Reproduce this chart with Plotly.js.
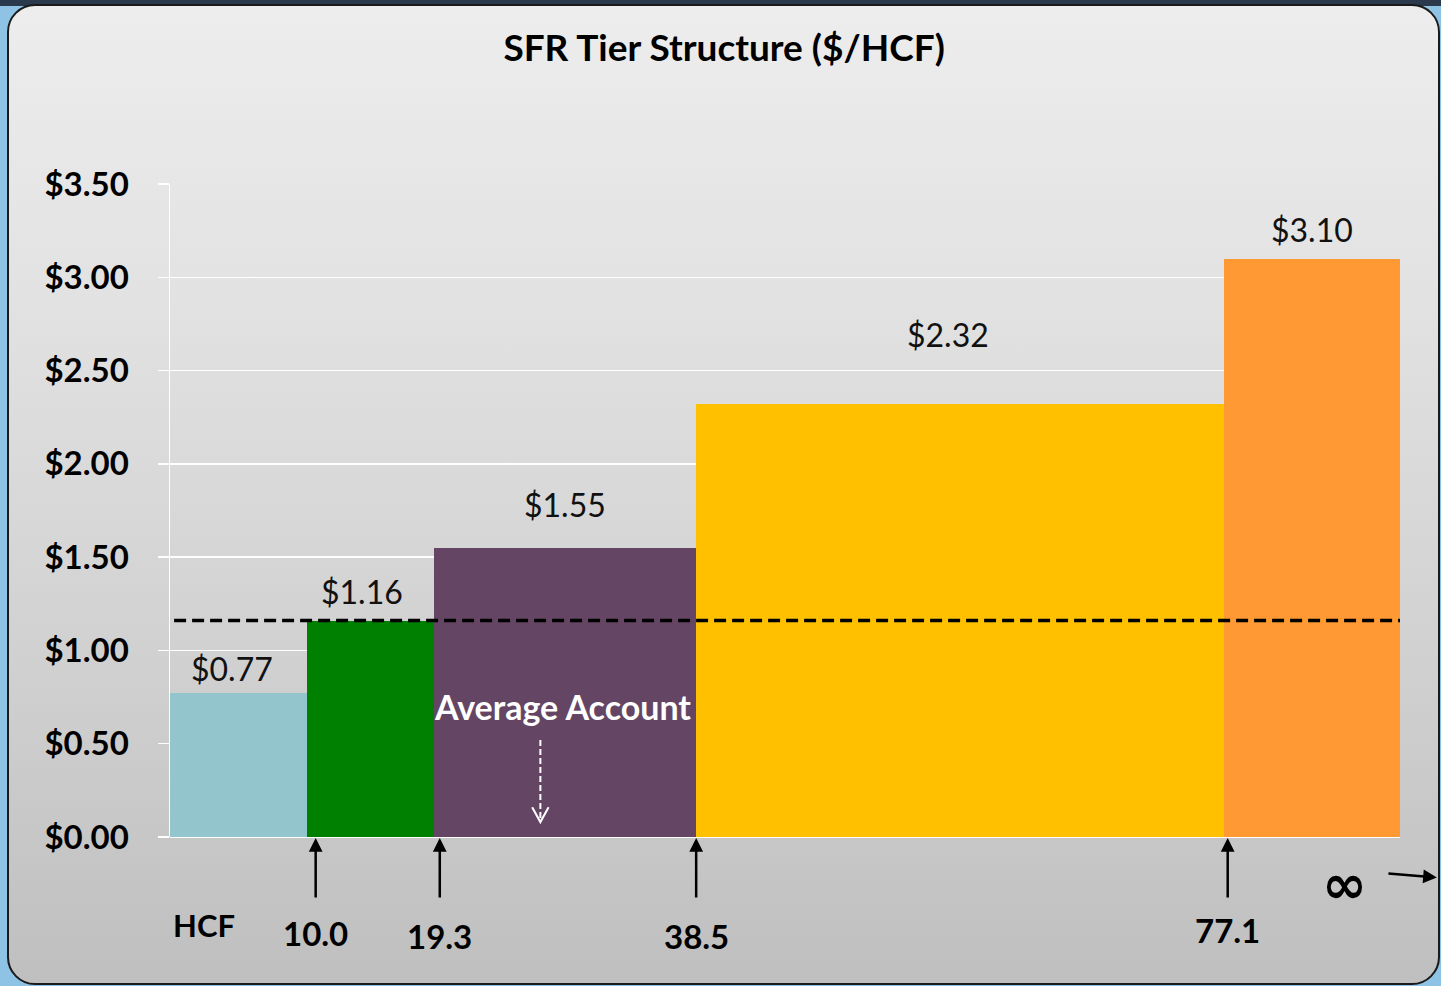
<!DOCTYPE html>
<html>
<head>
<meta charset="utf-8">
<script src="https://cdn.plot.ly/plotly-3.0.1.min.js"></script>
<style>
  html, body { margin: 0; padding: 0; width: 1441px; height: 986px; overflow: hidden; }
  body { background: #8ec3e6; position: relative; }
  #topstrip { position: absolute; left: 0; top: 0; width: 1441px; height: 6px; background: #2a3a4c; }
  #frame { position: absolute; left: 7px; top: 4px; width: 1433px; height: 981px; box-sizing: border-box;
           border: 2px solid #1a1a1a; border-radius: 28px;
           background: linear-gradient(to bottom, #ededed 0%, #e2e2e2 30%, #cfcfcf 70%, #bfbfbf 100%); }
  #chart { position: absolute; left: 0; top: 0; width: 1441px; height: 986px; }
</style>
</head>
<body>
<div id="topstrip"></div>
<div id="frame"></div>
<div id="chart"></div>
<script>
// Tier data
const tierStart = [0, 10.0, 19.3, 38.5, 77.1];
const tierEnd   = [10.0, 19.3, 38.5, 77.1, 90];
const rates     = [0.77, 1.16, 1.55, 2.32, 3.10];
const rateLabels = ['$0.77', '$1.16', '$1.55', '$2.32', '$3.10'];
const tierColors = ['#92c5cc', '#008000', '#644664', '#ffc000', '#ff9933'];
const boundaryLabels = ['10.0', '19.3', '38.5', '77.1'];
const boundaries = [10.0, 19.3, 38.5, 77.1];
const avgRate = 1.16;

const FONT = 'Lato, "Open Sans", sans-serif';
const widths = tierStart.map((s, i) => tierEnd[i] - s);
const centers = tierStart.map((s, i) => s + widths[i] / 2);

// label offsets (pixels) – layout only
const labelYShift = [3, 8, 22, 48, 8];
const labelXShift = [-6, -8, 0, -12, 0];
const boundaryLabelY = [-0.147, -0.151, -0.151, -0.142];
const boundaryXShift = [9, 6, 0, 4];

const traces = [
  {
    type: 'bar',
    x: tierStart,
    y: rates,
    width: widths,
    offset: 0,
    marker: { color: tierColors, line: { width: 0 } },
    hoverinfo: 'skip',
    showlegend: false
  },
  {
    type: 'scatter',
    mode: 'lines',
    x: [0.3, tierEnd[4]],
    y: [avgRate, avgRate],
    line: { color: '#000', width: 3.5, dash: '12px,6px' },
    hoverinfo: 'skip',
    showlegend: false
  }
];

const annotations = [];
rates.forEach((r, i) => {
  annotations.push({
    x: centers[i], y: r, xref: 'x', yref: 'y',
    text: rateLabels[i], showarrow: false,
    yanchor: 'bottom', yshift: labelYShift[i], xshift: labelXShift[i],
    font: { family: FONT, size: 32, color: '#111' }
  });
});
boundaries.forEach((b, i) => {
  annotations.push({
    x: b, y: 0, xref: 'x', yref: 'y', text: '',
    showarrow: true, ax: 0, ay: 62, arrowhead: 2, arrowsize: 1.1, arrowwidth: 2.5,
    arrowcolor: '#000', standoff: 1, xshift: boundaryXShift[i]
  });
  annotations.push({
    x: b, y: boundaryLabelY[i], xref: 'x', yref: 'paper', text: '<b>' + boundaryLabels[i] + '</b>',
    showarrow: false, yanchor: 'middle', xshift: boundaryXShift[i],
    font: { family: FONT, size: 33, color: '#000' }
  });
});
annotations.push({
  x: 2.5, y: -0.135, xref: 'x', yref: 'paper', text: '<b>HCF</b>',
  showarrow: false, yanchor: 'middle', font: { family: FONT, size: 31, color: '#000' }
});
annotations.push({
  x: 0.975, y: -0.072, xref: 'paper', yref: 'paper', text: '<b>∞</b>',
  showarrow: false, yanchor: 'middle', font: { family: 'DejaVu Sans', size: 54, color: '#000' }
});
annotations.push({
  x: 1.03, y: -0.062, xref: 'paper', yref: 'paper', text: '',
  showarrow: true, ax: -50, ay: -4, arrowhead: 2, arrowsize: 1.1, arrowwidth: 2.5,
  arrowcolor: '#000', standoff: 0
});
annotations.push({
  x: 28.7, y: 0.70, xref: 'x', yref: 'y', text: '<b>Average Account</b>',
  showarrow: false, font: { family: FONT, size: 34, color: '#fff' }
});

const shapes = [
  { type: 'line', xref: 'x', yref: 'y', x0: 27.1, x1: 27.1, y0: 0.52, y1: 0.09,
    line: { color: '#fff', width: 2, dash: '6px,3px' } },
  { type: 'path', xref: 'x', yref: 'y', path: 'M 26.5 0.16 L 27.1 0.08 L 27.7 0.16',
    line: { color: '#fff', width: 2 } }
];

const layout = {
  width: 1441, height: 986,
  margin: { l: 170, r: 41, t: 184, b: 149 },
  paper_bgcolor: 'rgba(0,0,0,0)',
  plot_bgcolor: 'rgba(0,0,0,0)',
  title: {
    text: '<b>SFR Tier Structure ($/HCF)</b>',
    x: 0.5025, xanchor: 'center', y: 0.951, yanchor: 'middle',
    font: { family: FONT, size: 37, color: '#000' }
  },
  bargap: 0,
  xaxis: {
    range: [0, tierEnd[4]], showgrid: false, zeroline: false,
    showticklabels: false, ticks: '', showline: false, fixedrange: true
  },
  yaxis: {
    range: [0, 3.5], dtick: 0.5, tick0: 0,
    tickprefix: '$', tickformat: '.2f',
    showgrid: true, gridcolor: '#ffffff', gridwidth: 1.5,
    zeroline: true, zerolinecolor: '#ffffff', zerolinewidth: 1.5,
    showline: true, linecolor: '#ffffff', linewidth: 1.5,
    ticks: 'outside', ticklen: 11, tickcolor: '#ffffff', tickwidth: 1.5,
    ticklabelstandoff: 22,
    tickfont: { family: FONT, size: 33, color: '#000', weight: 'bold' },
    fixedrange: true
  },
  annotations: annotations,
  shapes: shapes,
  font: { family: FONT }
};

Plotly.newPlot('chart', traces, layout, { displayModeBar: false, staticPlot: true });
</script>
</body>
</html>
